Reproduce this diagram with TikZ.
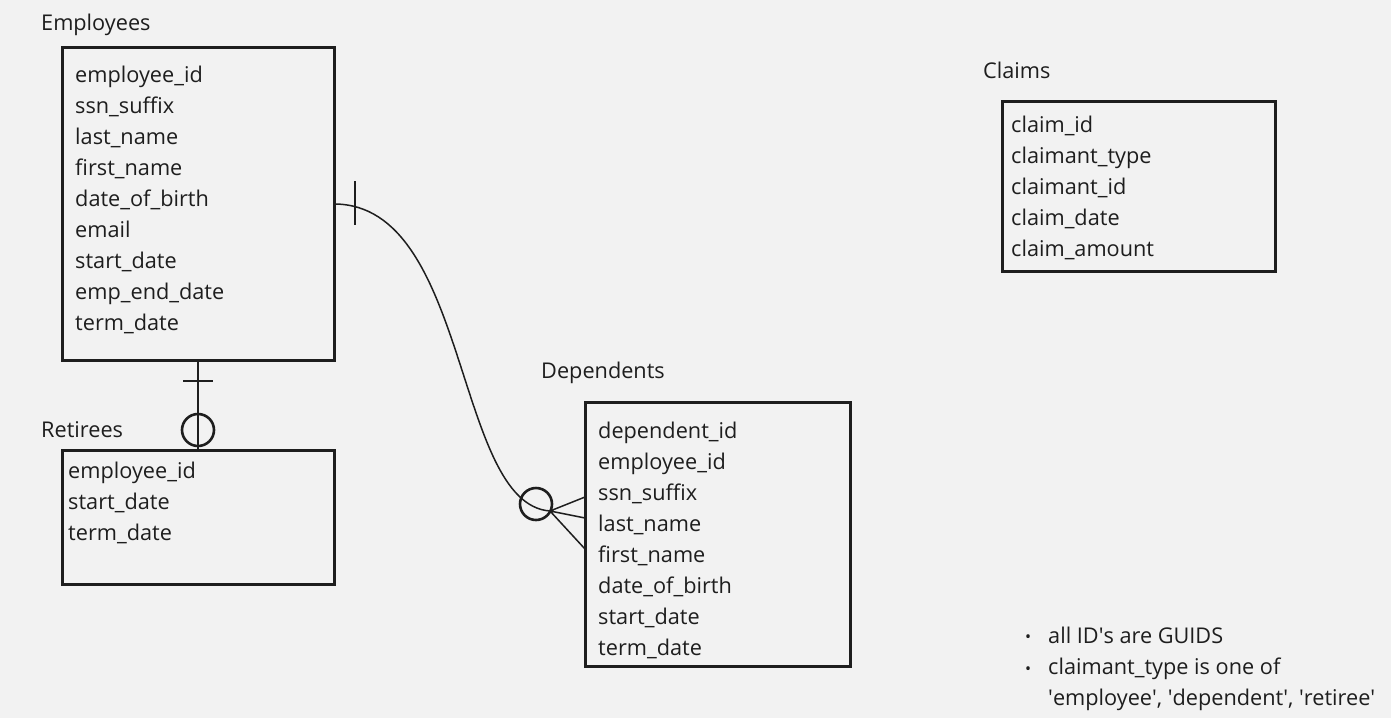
\documentclass[tikz,border=0pt]{standalone}
\usepackage{fontspec}
\setmainfont{Open Sans}
\usepackage{xcolor}
\usetikzlibrary{positioning}
\definecolor{bg}{HTML}{F2F2F2}
\definecolor{ink}{HTML}{1E1E1E}

\begin{document}
\begin{tikzpicture}[x=1pt,y=-1pt,
tbl/.style={draw=ink,line width=3pt,anchor=north west,inner sep=0pt,outer sep=0pt},
fld/.style={anchor=base west,inner sep=0pt,text=ink,font=\fontsize{21.7}{25}\selectfont},
dot/.style={anchor=base,inner sep=0pt,text=ink,font=\fontsize{16}{18}\selectfont},
rel/.style={draw=ink,line width=1.5pt},
opt/.style={draw=ink,line width=2.6pt}]
\fill[bg](0,0)rectangle(1391,718);
\useasboundingbox(0,0)rectangle(1391,718);
% tables
\node[tbl,minimum width=272pt,minimum height=313pt](emp)at(62,47){};
\node[tbl,minimum width=272pt,minimum height=134pt](ret)at(62,450){};
\node[tbl,minimum width=265pt,minimum height=264pt](dep)at(585,402){};
\node[tbl,minimum width=273pt,minimum height=170pt](clm)at(1002,101){};
% titles
\node[fld](empT)at(41,30){Employees};
\node[fld](retT)at(41,437){Retirees};
\node[fld](depT)at(541,378){Dependents};
\node[fld](clmT)at(983,78){Claims};
% fields
\foreach \f[count=\i] in {employee\_id,ssn\_suffix,last\_name,first\_name,date\_of\_birth,email,start\_date,emp\_end\_date,term\_date}
\node[fld](emp\i)at(75,82+31*\i-31){\f};
\foreach \f[count=\i] in {employee\_id,start\_date,term\_date}
\node[fld](ret\i)at(68,478+31.3*\i-31.3){\f};
\foreach \f[count=\i] in {dependent\_id,employee\_id,ssn\_suffix,last\_name,first\_name,date\_of\_birth,start\_date,term\_date}
\node[fld](dep\i)at(598,438+31*\i-31){\f};
\foreach \f[count=\i] in {claim\_id,claimant\_type,claimant\_id,claim\_date,claim\_amount}
\node[fld](clm\i)at(1011,132+31*\i-31){\f};
% notes
\node[dot](b1)at(1028,642){\textbullet};
\node[fld](n1)at(1048,643){all ID\textquotesingle s are GUIDS};
\node[dot](b2)at(1028,674){\textbullet};
\node[fld](n2)at(1048,674){claimant\_type is one of};
\node[fld](n3)at(1048,705){\textquotesingle employee\textquotesingle, \textquotesingle dependent\textquotesingle, \textquotesingle retiree\textquotesingle};
% employees -- retirees
\coordinate(eR)at(198,360);
\coordinate(rE)at(198,450);
\draw[rel](eR)--(rE);
\draw[rel](183,381)--(213,381);
\draw[opt](198,430)circle(16);
% employees -- dependents
\coordinate(eD)at(334,204);
\coordinate(fan)at(550,511);
\coordinate(d1)at(585,497);
\coordinate(d2)at(585,518);
\coordinate(d3)at(585,549);
\draw[rel](eD)..controls(470,204)and(454,504)..(fan);
\draw[rel](355,181)--(355,225);
\draw[opt](536,504)circle(16);
\draw[rel](fan)--(d1) (fan)--(d2) (fan)--(d3);
\end{tikzpicture}
\end{document}
